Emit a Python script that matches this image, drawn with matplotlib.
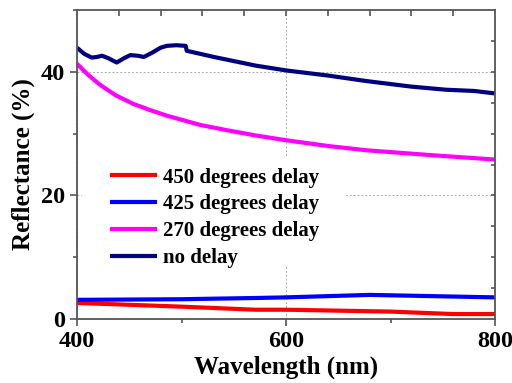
import matplotlib
matplotlib.use("Agg")
import matplotlib.pyplot as plt
import numpy as np
from matplotlib.ticker import MultipleLocator
from matplotlib.patches import Rectangle

wl_nodelay = [400, 407, 414, 419, 424, 430, 438, 445, 451, 458, 464, 472, 480, 486, 495, 504, 505,
              531, 571, 601, 640, 677, 720, 753, 780, 800]
r_nodelay = [43.9, 42.9, 42.3, 42.4, 42.6, 42.2, 41.5, 42.2, 42.7, 42.6, 42.4, 43.1, 43.9, 44.2, 44.3, 44.2, 43.4,
             42.4, 41.0, 40.2, 39.4, 38.5, 37.6, 37.1, 36.9, 36.5]

wl_270 = [400, 410, 422, 437, 454, 470, 486, 518, 545, 571, 601, 640, 677, 740, 800]
r_270 = [41.3, 39.6, 37.9, 36.2, 34.8, 33.8, 32.9, 31.4, 30.5, 29.7, 28.9, 28.0, 27.3, 26.5, 25.8]

wl_425 = [400, 500, 571, 600, 680, 740, 800]
r_425 = [3.1, 3.2, 3.4, 3.5, 3.9, 3.7, 3.5]

wl_450 = [400, 500, 571, 600, 700, 760, 800]
r_450 = [2.6, 2.0, 1.5, 1.5, 1.2, 0.8, 0.8]

labels = ["450 degrees delay", "425 degrees delay", "270 degrees delay", "no delay"]
colors = ["#ff0000", "#0000ff", "#ff00ff", "#000080"]

fig = plt.figure(figsize=(5.12, 3.83), dpi=100)
ax = fig.add_axes([77/512, 1-319/383, (495-77)/512, (319-10)/383])

series = [(wl_450, r_450), (wl_425, r_425), (wl_270, r_270), (wl_nodelay, r_nodelay)]
for (x, y), lab, c in zip(series, labels, colors):
    ax.plot(x, y, color=c, lw=3, label=lab, solid_joinstyle="round", solid_capstyle="butt")

ax.set_xlim(400, 800)
ax.set_ylim(0, 50)
ax.xaxis.set_major_locator(MultipleLocator(200))
ax.xaxis.set_minor_locator(MultipleLocator(100))
ax.yaxis.set_major_locator(MultipleLocator(20))
ax.yaxis.set_minor_locator(MultipleLocator(10))
ax.grid(True, which="major", color="#aaaaaa", ls=(0, (2, 2)), lw=0.7)
spc = "#555555"
for s in ax.spines.values():
    s.set_color(spc)
    s.set_linewidth(1.3)
ax.tick_params(which="both", direction="out", color=spc, width=1.2)
ax.tick_params(which="major", length=5)
ax.tick_params(which="minor", length=3)

# white area behind the legend (hides the grid there)
ax.add_patch(Rectangle(((82-77)/418, (319-265)/309), (345-82)/418, (265-157)/309,
                       transform=ax.transAxes, facecolor="white", edgecolor="none", zorder=1.6))

# top ticks (every 40 nm) and right ticks (every 5 %), pointing inward
axt = ax.twiny()
axt.set_xlim(400, 800)
axt.set_xticks(np.arange(440, 800, 40))
axt.tick_params(axis="x", direction="in", length=4, width=1.2, color=spc, labeltop=False)
axr = ax.twinx()
axr.set_ylim(0, 50)
axr.set_yticks(np.arange(5, 50, 5))
axr.tick_params(axis="y", direction="in", length=3, width=1.2, color=spc, labelright=False)
for a in (axt, axr):
    for s in a.spines.values():
        s.set_visible(False)

fsz = 17.5
font = {"family": "Liberation Serif", "weight": "bold"}
for lbl in ax.get_xticklabels() + ax.get_yticklabels():
    lbl.set_fontfamily("Liberation Serif")
    lbl.set_fontweight("bold")
    lbl.set_fontsize(fsz)
ax.set_xlabel("Wavelength (nm)", fontdict=font, fontsize=18, labelpad=3)
ax.set_ylabel("Reflectance (%)", fontdict=font, fontsize=18, labelpad=4)

leg = ax.legend(loc="upper left", bbox_to_anchor=((110-77)/418, 0.490), frameon=False,
                prop={"family": "Liberation Serif", "weight": "bold", "size": 15},
                handlelength=2.25, labelspacing=0.33, handletextpad=0.3,
                borderpad=0, borderaxespad=0)
leg.set_zorder(5)

fig.savefig("out.png", dpi=100)
